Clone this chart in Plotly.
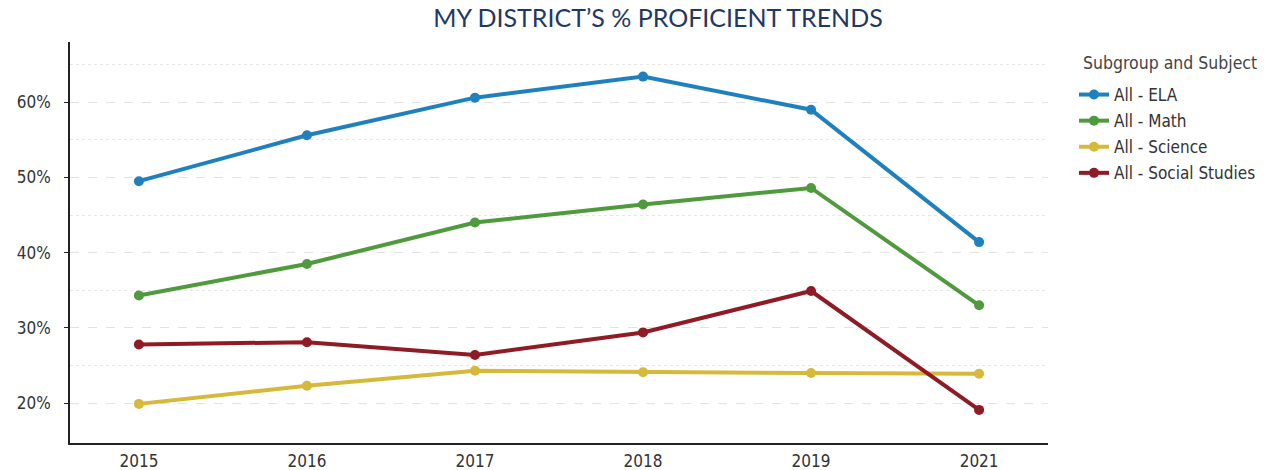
import plotly.graph_objects as go

years = ["2015", "2016", "2017", "2018", "2019", "2021"]
ela = [49.5, 55.6, 60.6, 63.4, 59.0, 41.4]
math = [34.3, 38.5, 44.0, 46.4, 48.6, 33.0]
science = [19.9, 22.3, 24.3, 24.1, 24.0, 23.9]
social = [27.8, 28.1, 26.4, 29.4, 34.9, 19.1]

names = ["All - ELA", "All - Math", "All - Science", "All - Social Studies"]
colors = ["#1f80bd", "#4f9a3c", "#d6b93a", "#8f1b25"]
series = [ela, math, science, social]

fig = go.Figure()
for n, c, s in zip(names, colors, series):
    fig.add_trace(go.Scatter(
        x=years, y=[v / 100 for v in s], name=n, mode="lines+markers", legendgroup=n,
        line=dict(color=c, width=4), marker=dict(color=c, size=10),
    ))

narrow = "DejaVu Sans Condensed, Liberation Sans Narrow, Arial Narrow, sans-serif"
tick_font = dict(family=narrow, size=17, color="#333333")

fig.update_layout(
    width=1278, height=470,
    margin=dict(l=70, r=230, t=42, b=27, autoexpand=False),
    paper_bgcolor="white", plot_bgcolor="white",
    title=dict(text="MY DISTRICT\u2019S % PROFICIENT TRENDS", x=658 / 1278, xanchor="center",
               y=1 - 18 / 470, yanchor="middle",
               font=dict(family="Lato, Open Sans, sans-serif", size=25, color="#1f3864")),
    showlegend=True,
    legend=dict(
        font=dict(family=narrow, size=17, color="#333333"),
        xref="container", yref="container",
        x=1074 / 1278, y=1 - 77 / 470, xanchor="left", yanchor="top",
        tracegroupgap=1, itemwidth=30, bgcolor="rgba(0,0,0,0)",
    ),
    annotations=[dict(
        text="Subgroup and Subject", xref="paper", yref="paper",
        x=(1081 - 70) / (1278 - 300), y=1 - (63 - 42) / (470 - 69),
        xanchor="left", yanchor="middle", showarrow=False,
        font=dict(family=narrow, size=17.5, color="#444444"),
    )],
    xaxis=dict(
        type="category", range=[-0.41, 5.41], automargin=False,
        showgrid=False, showline=True, linecolor="#222222", linewidth=1.5,
        ticks="", tickfont=tick_font, zeroline=False, ticklabelstandoff=2,
    ),
    yaxis=dict(
        range=[0.147, 0.68], tickformat=".0%", tickvals=[0.2, 0.3, 0.4, 0.5, 0.6],
        automargin=False,
        showline=True, linecolor="#222222", linewidth=1.5,
        ticks="outside", ticklen=4, tickcolor="#222222", tickfont=tick_font,
        ticklabelstandoff=10,
        showgrid=True, gridcolor="#e2e2e2", griddash="dash", gridwidth=1,
        zeroline=False,
        minor=dict(tickvals=[0.25, 0.35, 0.45, 0.55, 0.65], showgrid=True,
                   gridcolor="#e6e6e6", griddash="dot", gridwidth=1),
    ),
)

fig.write_html("out.html", config={"displayModeBar": False},
               post_script="document.body.style.margin='0px';")
